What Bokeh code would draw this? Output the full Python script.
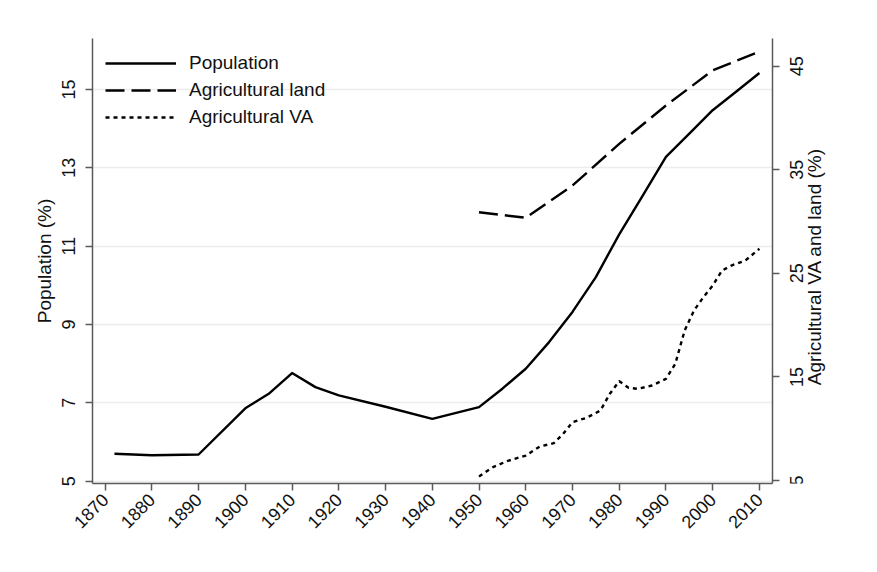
import math
from bokeh.plotting import figure
from bokeh.layouts import row
from bokeh.models import Range1d, LinearAxis, FixedTicker, Legend, LegendItem
from bokeh.core.properties import value
from bokeh.embed import file_html
from bokeh.resources import INLINE

# ---- data ----
pop_years = [1872, 1880, 1890, 1900, 1905, 1910, 1915, 1920, 1930, 1940, 1950, 1955,
             1960, 1965, 1970, 1975, 1980, 1985, 1990, 1995, 2000, 2005, 2010]
population = [5.70, 5.66, 5.68, 6.86, 7.23, 7.76, 7.40, 7.19, 6.90, 6.59, 6.89, 7.36,
              7.87, 8.55, 9.32, 10.21, 11.30, 12.28, 13.28, 13.87, 14.47, 14.94, 15.42]

land_years = [1950, 1960, 1970, 1980, 1990, 2000, 2010]
agri_land = [30.9, 30.36, 33.47, 37.5, 41.2, 44.6, 46.4]

va_years = [1950, 1953, 1956, 1960, 1963, 1966, 1968, 1970, 1973, 1976, 1978, 1980, 1982,
            1984, 1987, 1990, 1992, 1994, 1996, 1998, 2000, 2002, 2004, 2007, 2010]
agri_va = [5.39, 6.29, 6.87, 7.41, 8.28, 8.60, 9.5, 10.63, 11.05, 11.76, 13.37, 14.59, 13.95,
           13.85, 14.17, 14.81, 16.26, 19.48, 21.41, 22.69, 23.82, 25.27, 25.75, 26.24, 27.37]

x_ticks = list(range(1870, 2011, 10))
left_ticks = [5, 7, 9, 11, 13, 15]
right_ticks = [5, 15, 25, 35, 45]
right_title = "Agricultural VA and land (%)"

# ---- layout constants ----
W, H = 877, 572
TOP, BOTTOM, LEFT = 38, 89, 92
MAIN_W = 785          # main figure ends just after the right axis ticks
SIDE_W = W - MAIN_W   # strip holding right-axis labels
R_LO, R_HI = 4.71, 47.67
FONT = "Liberation Sans"
AXIS_COL = "#5a5a5a"
TXT_COL = "#111111"

right_range = Range1d(R_LO, R_HI)

p = figure(width=MAIN_W, height=H, output_backend="svg", toolbar_location=None,
           x_range=Range1d(1867.3, 2012.8), y_range=Range1d(4.94, 16.30),
           min_border_left=LEFT, min_border_right=MAIN_W - 772,
           min_border_top=TOP, min_border_bottom=BOTTOM)
p.extra_y_ranges = {"right": right_range}
p.outline_line_color = None
p.background_fill_color = "white"
p.border_fill_color = "white"

p.xgrid.visible = False
p.ygrid.ticker = FixedTicker(ticks=left_ticks)
p.ygrid.grid_line_color = "#ececec"
p.ygrid.grid_line_width = 1.5

def style_axis(ax, ticks, orient):
    ax.ticker = FixedTicker(ticks=ticks)
    ax.axis_line_color = AXIS_COL
    ax.axis_line_width = 1.5
    ax.major_tick_line_color = AXIS_COL
    ax.major_tick_line_width = 1.5
    ax.major_tick_out = 7
    ax.major_tick_in = 0
    ax.minor_tick_line_color = None
    ax.major_label_text_font = FONT
    ax.major_label_text_font_size = "18px"
    ax.major_label_text_color = TXT_COL
    ax.major_label_orientation = orient
    ax.major_label_standoff = 8
    ax.axis_label_text_font = FONT
    ax.axis_label_text_font_size = "19px"
    ax.axis_label_text_font_style = "normal"
    ax.axis_label_text_color = TXT_COL

style_axis(p.xaxis[0], x_ticks, math.pi / 4)
p.xaxis[0].major_label_standoff = 6
style_axis(p.yaxis[0], left_ticks, "vertical")
p.yaxis[0].major_label_standoff = 10
p.yaxis[0].axis_label = "Population (%)"
p.yaxis[0].axis_label_standoff = 5

# right axis: line and ticks here, labels in the side strip (reading upward)
right_axis = LinearAxis(y_range_name="right")
style_axis(right_axis, right_ticks, "horizontal")
right_axis.major_label_overrides = {t: "" for t in right_ticks}
right_axis.major_label_standoff = 0
right_axis.major_label_text_font_size = "1px"
p.add_layout(right_axis, "right")

r_pop = p.line(pop_years, population, line_color="black", line_width=2.4, line_join="round")
r_land = p.line(land_years, agri_land, y_range_name="right", line_color="black",
                line_width=2.4, line_dash="19 7", line_join="round")
r_va = p.line(va_years, agri_va, y_range_name="right", line_color="black",
              line_width=2.4, line_dash="4 4", line_join="round")

legend = Legend(items=[LegendItem(label="Population", renderers=[r_pop]),
                       LegendItem(label="Agricultural land", renderers=[r_land]),
                       LegendItem(label="Agricultural VA", renderers=[r_va])],
                location="top_left")
legend.border_line_color = None
legend.background_fill_alpha = 0
legend.label_text_font = FONT
legend.label_text_font_size = "19px"
legend.label_text_color = TXT_COL
legend.glyph_width = 71
legend.glyph_height = 24
legend.spacing = 3
legend.label_standoff = 13
legend.margin = 13
legend.padding = 10
p.add_layout(legend)

# ---- side strip: its frame is aligned with the main frame, same right-axis range ----
s = figure(width=SIDE_W, height=H, output_backend="svg", toolbar_location=None,
           x_range=Range1d(0, SIDE_W), y_range=right_range,
           x_axis_location=None, y_axis_location=None,
           min_border_left=0, min_border_right=0, min_border_top=TOP, min_border_bottom=BOTTOM)
s.outline_line_color = None
s.grid.visible = False
s.background_fill_color = "white"
s.border_fill_color = "white"

px_per_unit = (H - TOP - BOTTOM) / (R_HI - R_LO)
s.text(x=[11] * len(right_ticks), y=right_ticks, text=[str(t) for t in right_ticks],
       angle=math.pi / 2, text_align="center", text_baseline="alphabetic",
       text_font=value(FONT), text_font_size="18px", text_color=TXT_COL)
title_y = R_LO + (483 - 266) / px_per_unit
s.text(x=[29], y=[title_y], text=[right_title], angle=math.pi / 2,
       text_align="center", text_baseline="alphabetic",
       text_font=value(FONT), text_font_size="19px", text_color=TXT_COL)

layout = row(p, s)
open("out.html", "w").write(file_html(layout, INLINE))
